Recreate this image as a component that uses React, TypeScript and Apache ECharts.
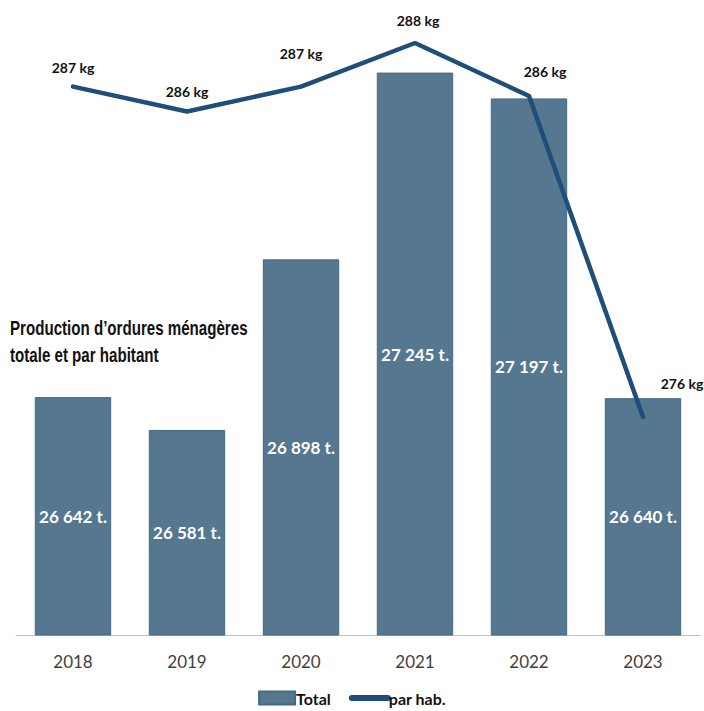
import React, { useEffect, useRef } from "react";
import * as echarts from "echarts";

const years = ["2018", "2019", "2020", "2021", "2022", "2023"];
const totals = [26642, 26581, 26898, 27245, 27197, 26640];
const perHab = [286.6, 285.8, 286.6, 288.0, 286.3, 276.0];
const perHabLabels = ["287 kg", "286 kg", "287 kg", "288 kg", "286 kg", "276 kg"];
const labelOffsets: [number, number][] = [[0, -12], [0, -13], [0, -26], [3, -15], [16, -17], [39, -26]];

const fmt = (v: number) => {
  const s = String(v);
  return s.slice(0, s.length - 3) + " " + s.slice(-3) + " t.";
};

export default function App() {
  const ref = useRef<HTMLDivElement>(null);
  useEffect(() => {
    document.body.style.margin = "0";
    const chart = echarts.init(ref.current!, null, { renderer: "svg" });
    chart.setOption({
      animation: false,
      backgroundColor: "#ffffff",
      grid: { left: 16, right: 4, top: 43, bottom: 76, containLabel: false },
      legend: {
        bottom: 0,
        left: "center",
        itemGap: 18,
        itemWidth: 36,
        itemHeight: 13,
        textStyle: { fontFamily: "Lato", fontWeight: "bold", fontSize: 16, color: "#111", padding: [0, 0, 0, -4] },
        data: [
          { name: "Total", icon: "rect" },
          { name: "par hab.", itemStyle: { opacity: 0 }, lineStyle: { width: 6, cap: "round" } },
        ],
      },
      graphic: [
        {
          type: "text",
          x: 10,
          y: 314,
          z: 100,
          scaleX: 0.72,
          style: {
            text: "Production d’ordures ménagères\ntotale et par habitant",
            fontFamily: "Liberation Sans",
            fontWeight: "bold",
            fontSize: 21,
            lineHeight: 27,
            fill: "#111",
          },
        },
      ],
      xAxis: {
        type: "category",
        data: years,
        axisLine: { lineStyle: { color: "#bfbfbf", width: 1 } },
        axisTick: { show: false },
        axisLabel: { fontFamily: "Lato", fontSize: 17, color: "#404040", margin: 18 },
      },
      yAxis: [
        { type: "value", min: 26200, max: 27300, show: false, splitLine: { show: false } },
        { type: "value", min: 269, max: 288, show: false, splitLine: { show: false } },
      ],
      series: [
        {
          name: "Total",
          type: "bar",
          data: totals,
          barWidth: "67%",
          itemStyle: { color: "#557890", borderColor: "#436a82", borderWidth: 1 },
          label: {
            show: true,
            position: "inside",
            formatter: (p: any) => fmt(p.value),
            color: "#ffffff",
            fontFamily: "Lato",
            fontWeight: "bold",
            fontSize: 17,
          },
        },
        {
          name: "par hab.",
          type: "line",
          yAxisIndex: 1,
          data: perHab.map((v, i) => ({
            value: v,
            label: { offset: labelOffsets[i] },
          })),
          symbol: "circle",
          symbolSize: 1,
          showSymbol: true,
          lineStyle: { color: "#1f4e79", width: 4.5, cap: "round", join: "round" },
          itemStyle: { color: "#1f4e79" },
          label: {
            show: true,
            position: "top",
            distance: 0,
            formatter: (p: any) => perHabLabels[p.dataIndex],
            color: "#111",
            fontFamily: "Lato",
            fontWeight: "bold",
            fontSize: 14,
          },
        },
      ],
    });
    return () => chart.dispose();
  }, []);
  return <div ref={ref} style={{ width: 704, height: 711 }} />;
}
